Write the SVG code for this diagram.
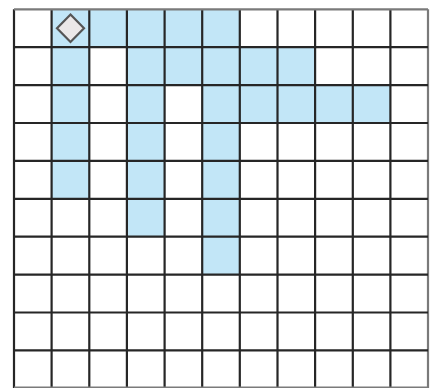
<svg xmlns="http://www.w3.org/2000/svg" width="431" height="388" viewBox="0 0 431 388">
<style>
.c{fill:#c2e6f7}
.g{stroke:#262626;stroke-width:2.2;fill:none}
.gl{stroke:#7a7a7a;stroke-width:2.2;fill:none}
.d{fill:#ebe8e8;stroke:#555;stroke-width:2.2}
</style>
<rect width="431" height="388" fill="#ffffff"/>
<g id="shaded">
<rect class="c" x="51.6" y="9.3" width="188.2" height="37.9"/>
<rect class="c" x="51.6" y="47.2" width="37.7" height="151.6"/>
<rect class="c" x="126.9" y="47.2" width="188.2" height="37.9"/>
<rect class="c" x="126.9" y="85.1" width="37.7" height="151.6"/>
<rect class="c" x="202.2" y="85.1" width="37.6" height="189.5"/>
<rect class="c" x="239.8" y="85.1" width="150.6" height="37.9"/>
</g>
<g id="grid">
<path class="g" d="M14 9.3V388M51.6 9.3V388M89.3 9.3V388M126.9 9.3V388M164.6 9.3V388M202.2 9.3V388M239.8 9.3V388M277.5 9.3V388M315.1 9.3V388M352.8 9.3V388M390.4 9.3V388"/>
<path class="gl" d="M428 9.3V388"/>
<path class="gl" d="M14 9.3H428"/>
<path class="g" d="M14 47.2H428M14 85.1H428M14 123H428M14 160.9H428M14 198.8H428M14 236.7H428M14 274.6H428M14 312.5H428M14 350.4H428"/>
<path class="gl" d="M14 387.5H428"/>
</g>
<g id="marker">
<polygon class="d" points="70.5,14.5 84,28.3 70.5,42 57,28.3"/>
</g>
</svg>
